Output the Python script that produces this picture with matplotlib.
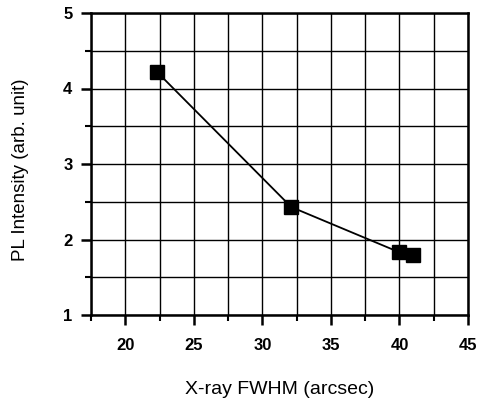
import matplotlib
matplotlib.use('Agg')
import matplotlib.pyplot as plt
from matplotlib.ticker import MultipleLocator

# FWHM (arcsec) vs PL intensity, last point not joined to the line
fwhm = [22.3, 32.1, 40.0]
intensity = [4.22, 2.43, 1.83]
fwhm_extra = [41.0]
intensity_extra = [1.80]

plt.rcParams['font.family'] = ['Liberation Sans', 'DejaVu Sans']

fig = plt.figure(figsize=(4.8, 4.0), dpi=100)
ax = fig.add_axes([0.19, 0.2125, 0.785, 0.755])

ax.plot(fwhm, intensity, color='black', lw=1.3, marker='s', ms=10, zorder=3)
ax.plot(fwhm_extra, intensity_extra, color='black', lw=0, marker='s', ms=10, zorder=3)

ax.set_xlim(17.5, 45)
ax.set_ylim(1, 5)
ax.xaxis.set_major_locator(MultipleLocator(5))
ax.xaxis.set_minor_locator(MultipleLocator(2.5))
ax.yaxis.set_major_locator(MultipleLocator(1))
ax.yaxis.set_minor_locator(MultipleLocator(0.5))

ax.grid(True, which='both', color='black', lw=1.0)
ax.set_axisbelow(True)
for s in ax.spines.values():
    s.set_linewidth(1.8)

ax.tick_params(which='major', direction='out', length=7.5, width=1.8)
ax.tick_params(axis='x', which='major', pad=9)
ax.tick_params(axis='y', which='major', pad=6)
ax.tick_params(which='minor', direction='out', length=4, width=1.5)
for lab in ax.get_xticklabels() + ax.get_yticklabels():
    lab.set_fontweight('bold')
    lab.set_fontsize(12)

ax.set_xlabel('X-ray FWHM (arcsec)', fontsize=14, labelpad=20)
ax.set_ylabel('PL Intensity (arb. unit)', fontsize=13.5)
ax.yaxis.set_label_coords(-0.165, 0.48)

fig.savefig('out.png', dpi=100)
